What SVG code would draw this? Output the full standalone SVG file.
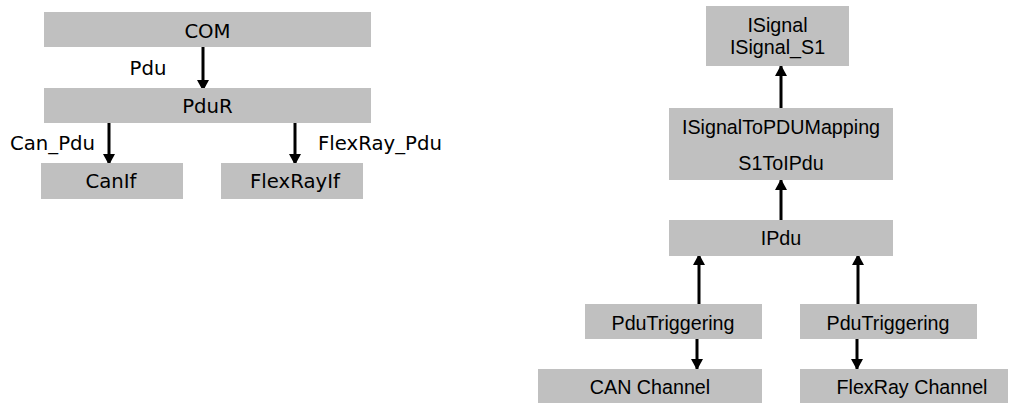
<svg xmlns="http://www.w3.org/2000/svg" width="1011" height="403" viewBox="0 0 1011 403">
<style>
.box{fill:#c0c0c0;}
.v{font-family:"DejaVu Sans",Verdana,sans-serif;font-size:19.7px;fill:#000;}
.a{font-family:"Liberation Sans",Arial,sans-serif;font-size:19.7px;fill:#000;}
.m{text-anchor:middle;}
.c{stroke:#000;stroke-width:3;fill:none;marker-end:url(#ah);}
</style>
<defs>
<marker id="ah" viewBox="0 0 11 12" refX="11" refY="6" markerWidth="11" markerHeight="12" markerUnits="userSpaceOnUse" orient="auto">
<path d="M0,0 L11,6 L0,12 z" fill="#000"/>
</marker>
</defs>
<rect width="1011" height="403" fill="#fff"/>
<g id="connectors">
<line class="c" x1="203" y1="47" x2="203" y2="91"/>
<line class="c" x1="109" y1="123" x2="109" y2="165"/>
<line class="c" x1="295" y1="123" x2="295" y2="165"/>
<line class="c" x1="781" y1="108" x2="781" y2="65"/>
<line class="c" x1="781" y1="220" x2="781" y2="179"/>
<line class="c" x1="699" y1="304" x2="699" y2="254"/>
<line class="c" x1="858" y1="304" x2="858" y2="254"/>
<line class="c" x1="697" y1="339" x2="697" y2="370"/>
<line class="c" x1="857" y1="339" x2="857" y2="370"/>
<text class="v m" x="148" y="75">Pdu</text>
<text class="v" x="10" y="150">Can_Pdu</text>
<text class="v" x="318" y="150">FlexRay_Pdu</text>
</g>
<g id="COM"><rect class="box" x="44" y="12" width="327" height="35"/><text class="v m" x="207.5" y="37.5">COM</text></g>
<g id="PduR"><rect class="box" x="44" y="88" width="327" height="35"/><text class="v m" x="207.5" y="113">PduR</text></g>
<g id="CanIf"><rect class="box" x="41" y="163" width="142" height="36"/><text class="v m" x="111" y="188">CanIf</text></g>
<g id="FlexRayIf"><rect class="box" x="221" y="163" width="142" height="36"/><text class="v m" x="295" y="188">FlexRayIf</text></g>
<g id="ISignal"><rect class="box" x="706" y="6" width="143" height="60"/><text class="a m" x="777.5" y="32">ISignal</text><text class="a m" x="777.5" y="54">ISignal_S1</text></g>
<g id="ISignalToPDUMapping"><rect class="box" x="669" y="108" width="224" height="72"/><text class="a m" x="781" y="134">ISignalToPDUMapping</text><text class="a m" x="781" y="170">S1ToIPdu</text></g>
<g id="IPdu"><rect class="box" x="669" y="220" width="224" height="36"/><text class="a m" x="781" y="245">IPdu</text></g>
<g id="PduTriggering1"><rect class="box" x="585" y="304" width="177" height="35"/><text class="a m" x="673" y="330">PduTriggering</text></g>
<g id="PduTriggering2"><rect class="box" x="800" y="304" width="177" height="35"/><text class="a m" x="888" y="330">PduTriggering</text></g>
<g id="CANChannel"><rect class="box" x="538" y="369" width="224" height="34"/><text class="a m" x="650" y="394">CAN Channel</text></g>
<g id="FlexRayChannel"><rect class="box" x="800" y="369" width="208" height="34"/><text class="a m" x="912" y="394">FlexRay Channel</text></g>
</svg>
